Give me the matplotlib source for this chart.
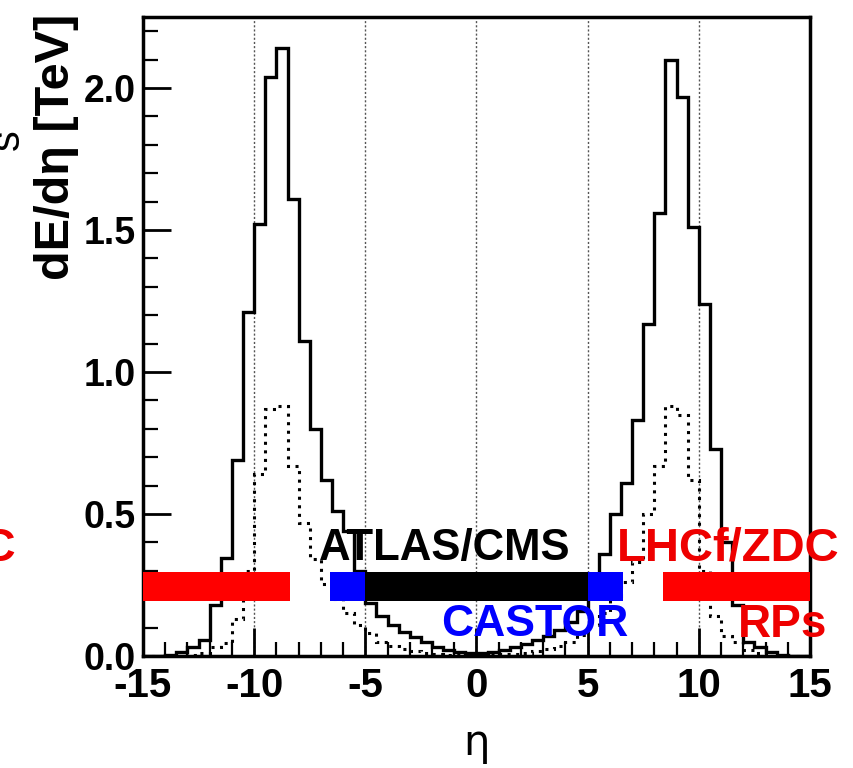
import numpy as np
import matplotlib
matplotlib.use("Agg")
import matplotlib.pyplot as plt
from matplotlib.ticker import MultipleLocator, FormatStrFormatter

plt.rcParams['font.family'] = ['Liberation Sans', 'DejaVu Sans']
plt.rcParams['axes.unicode_minus'] = False

# ---- data ----
eta_edges = np.arange(-15.0, 15.0 + 0.25, 0.5)

dedeta_total = [
    0.0, 0.0, 0.005, 0.015, 0.03, 0.055, 0.18, 0.344, 0.69, 1.21,
    1.52, 2.04, 2.14, 1.61, 1.11, 0.80, 0.62, 0.51, 0.44, 0.30,
    0.185, 0.14, 0.108, 0.085, 0.067, 0.048, 0.032, 0.02, 0.013, 0.01,
    0.01, 0.013, 0.02, 0.03, 0.042, 0.055, 0.07, 0.09, 0.12, 0.16,
    0.27, 0.36, 0.50, 0.61, 0.83, 1.17, 1.56, 2.10, 1.97, 1.51,
    1.24, 0.73, 0.40, 0.18, 0.05, 0.032, 0.015, 0.005, 0.0, 0.0,
]

dedeta_dotted = [
    0.0, 0.0, 0.0, 0.0, 0.005, 0.01, 0.03, 0.045, 0.13, 0.30,
    0.64, 0.87, 0.88, 0.67, 0.47, 0.34, 0.255, 0.20, 0.15, 0.11,
    0.08, 0.05, 0.035, 0.025, 0.018, 0.012, 0.008, 0.005, 0.004, 0.003,
    0.003, 0.004, 0.006, 0.008, 0.012, 0.018, 0.025, 0.035, 0.05, 0.075,
    0.11, 0.15, 0.21, 0.26, 0.33, 0.50, 0.67, 0.88, 0.85, 0.62,
    0.30, 0.14, 0.07, 0.05, 0.02, 0.01, 0.0, 0.0, 0.0, 0.0,
]

# detector acceptance bands
band_lo = [-15.0, -6.6, -5.0, 5.0, 8.4]
band_hi = [-8.4, -5.0, 5.0, 6.6, 15.0]
band_colors = ['#ff0000', '#0000ff', '#000000', '#0000ff', '#ff0000']
band_y = 0.245
band_h = 0.10

x_ticks = [-15, -10, -5, 0, 5, 10, 15]
y_ticks = [0.0, 0.5, 1.0, 1.5, 2.0]

# ---- figure ----
fig = plt.figure(figsize=(8.54, 7.68), dpi=100)
ax = fig.add_axes([143/854, 1 - 656/768, (810 - 143)/854, (656 - 17)/768])

ax.set_xlim(-15, 15)
ax.set_ylim(0, 2.25)

# grid
for xv in x_ticks[1:-1]:
    ax.axvline(xv, color='#555555', lw=1.0, ls=(0, (1.5, 1.5)), zorder=1)

ax.stairs(dedeta_dotted, eta_edges, color='black', lw=2.2, ls=(0, (1, 1.8)), zorder=2)
ax.stairs(dedeta_total, eta_edges, color='black', lw=2.4, zorder=3)

ax.barh([band_y]*len(band_lo), np.array(band_hi) - np.array(band_lo), left=band_lo,
        height=band_h, color=band_colors, zorder=4)

tb = dict(fontweight='bold', zorder=5)
ax.text(-1.45, 0.38, 'ATLAS/CMS', color='black', fontsize=31.5, ha='center', va='center', **tb)
ax.text(2.6, 0.11, 'CASTOR', color='#0000ff', fontsize=32, ha='center', va='center', **tb)
ax.text(6.3, 0.38, 'LHCf/ZDC', color='#ee0000', fontsize=34, ha='left', va='center',
        clip_on=False, **tb)
ax.text(11.75, 0.11, 'RPs', color='#ee0000', fontsize=33, ha='left', va='center',
        clip_on=False, **tb)
ax.text(-20.7, 0.38, 'LHCf/ZDC', color='#ee0000', fontsize=34, ha='right', va='center',
        clip_on=False, **tb)

# axes styling
for sp in ax.spines.values():
    sp.set_linewidth(2.5)
ax.set_xticks(x_ticks)
ax.set_yticks(y_ticks)
ax.xaxis.set_minor_locator(MultipleLocator(1))
ax.yaxis.set_minor_locator(MultipleLocator(0.1))
ax.yaxis.set_major_formatter(FormatStrFormatter('%.1f'))
ax.tick_params(axis='both', which='both', direction='in', top=False, right=False)
ax.tick_params(axis='y', which='major', length=20, width=2.0, labelsize=27, pad=5)
ax.tick_params(axis='y', which='minor', length=11, width=1.6)
ax.tick_params(axis='x', which='major', length=20, width=2.0, labelsize=29, pad=8)
ax.tick_params(axis='x', which='minor', length=10, width=1.6)
for lab in ax.get_xticklabels() + ax.get_yticklabels():
    lab.set_fontweight('bold')

ax.set_xlabel('η', fontsize=30, labelpad=12, family=['DejaVu Sans'])

fig.text(57/854, 1 - 14/768, 'dE/dη [TeV]', rotation=90, ha='center', va='top',
         fontsize=35, fontweight='bold')
fig.text(8/854, 1 - 140/768, 's', rotation=90, ha='center', va='center', fontsize=30)

fig.savefig('out.png', dpi=100)
